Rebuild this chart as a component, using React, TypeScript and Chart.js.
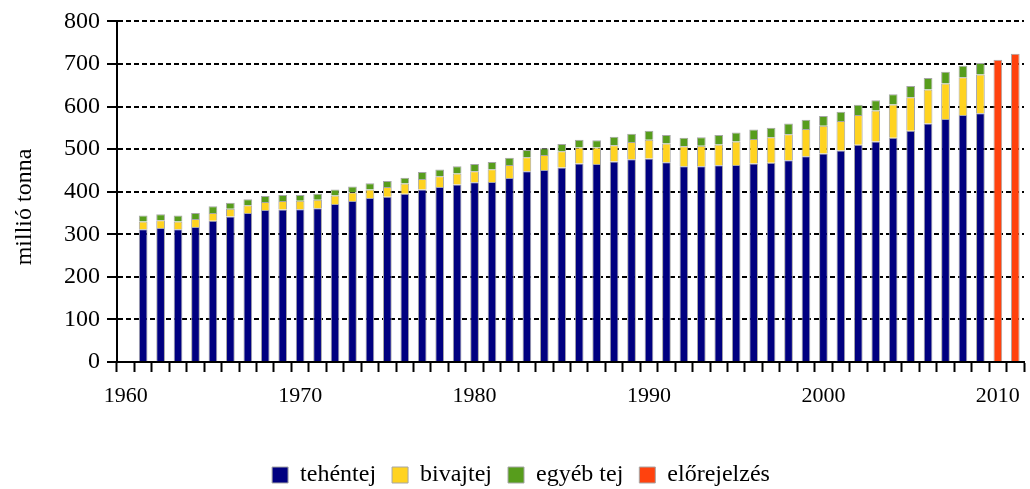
import React, { useEffect, useRef } from "react";
import { Chart, registerables } from "chart.js";

Chart.register(...registerables);

const years: number[] = [];
for (let y = 1960; y <= 2011; y++) years.push(y);

// values in million tonnes, 1961..2009
const cowMilk = [
  312, 315, 312, 317, 332, 342, 350, 357, 358, 359,
  361, 371, 378, 385, 388, 395, 405, 411, 417, 422,
  423, 432, 448, 451, 457, 466, 465, 471, 476, 478,
  469, 460, 460, 462, 463, 466, 468, 474, 483, 490,
  497, 510, 518, 527, 543, 560, 571, 580, 584,
];
const buffaloMilk = [
  18, 18, 18, 19, 18, 18, 18, 19, 20, 20,
  20, 20, 20, 20, 23, 24, 25, 25, 26, 26,
  30, 31, 33, 35, 38, 38, 39, 38, 41, 44,
  44, 47, 48, 49, 55, 58, 60, 61, 64, 65,
  69, 70, 73, 78, 79, 80, 83, 89, 91,
];
const otherMilk = [
  14, 14, 14, 14, 16, 14, 14, 14, 14, 13,
  14, 14, 14, 15, 14, 14, 16, 16, 17, 17,
  17, 17, 17, 16, 17, 18, 17, 20, 19, 21,
  20, 20, 20, 22, 21, 22, 22, 25, 22, 23,
  22, 24, 24, 24, 26, 27, 28, 27, 27,
];
const forecastYears = [2010, 2011];
const forecastValues = [710, 724];

const seriesLabels = ["tehéntej", "bivajtej", "egyéb tej", "előrejelzés"];
const yTicks = [0, 100, 200, 300, 400, 500, 600, 700, 800];
const axisTitle = "millió tonna";

const W = 1030;
const H = 489;
const PLOT_BOTTOM = 362;
const BOTTOM_PAD = -8;
const LEFT_PAD = 18;
const FONT = "'Liberation Serif', 'Times New Roman', serif";

function byYear(start: number, vals: number[]): (number | null)[] {
  return years.map((y) => {
    const i = y - start;
    return i >= 0 && i < vals.length ? vals[i] : null;
  });
}

export default function App() {
  const ref = useRef<HTMLCanvasElement | null>(null);

  useEffect(() => {
    if (!ref.current) return;
    const forecast = years.map((y) => {
      const i = forecastYears.indexOf(y);
      return i >= 0 ? forecastValues[i] : null;
    });
    const common = {
      borderWidth: 1,
      borderColor: "#a6a6a6",
      barPercentage: 0.5,
      categoryPercentage: 1,
      stack: "s",
    };
    const titlePlugin = {
      id: "yTitle",
      afterDraw(chart: any) {
        const ctx = chart.ctx;
        ctx.save();
        ctx.translate(25, 207);
        ctx.rotate(-Math.PI / 2);
        ctx.font = `24px ${FONT}`;
        ctx.fillStyle = "#000";
        ctx.textAlign = "center";
        ctx.textBaseline = "middle";
        ctx.fillText(axisTitle, 0, 0);
        ctx.restore();
      },
    };
    const chart = new Chart(ref.current, {
      type: "bar",
      data: {
        labels: years.map(String),
        datasets: [
          { label: seriesLabels[0], data: byYear(1961, cowMilk), backgroundColor: "#000080", ...common },
          { label: seriesLabels[1], data: byYear(1961, buffaloMilk), backgroundColor: "#FFD320", ...common },
          { label: seriesLabels[2], data: byYear(1961, otherMilk), backgroundColor: "#579D1C", ...common },
          { label: seriesLabels[3], data: forecast, backgroundColor: "#FF420E", ...common },
        ],
      },
      options: {
        animation: false,
        responsive: false,
        devicePixelRatio: 1,
        layout: { padding: { top: 18, right: 6, bottom: BOTTOM_PAD, left: LEFT_PAD } },
        plugins: {
          tooltip: { enabled: false },
          legend: {
            position: "bottom",
            labels: {
              boxWidth: 16,
              boxHeight: 16,
              padding: 16,
              color: "#000",
              font: { family: FONT, size: 24 },
            },
          },
        },
        scales: {
          x: {
            stacked: true,
            offset: true,
            grid: {
              display: true,
              offset: true,
              drawOnChartArea: false,
              drawTicks: true,
              tickLength: 10,
              tickColor: "#000",
              tickWidth: 2,
            },
            border: { display: true, color: "#000", width: 2 },
            ticks: {
              autoSkip: false,
              maxRotation: 0,
              minRotation: 0,
              padding: 11,
              color: "#000",
              font: { family: FONT, size: 22 },
              callback: (_v: any, i: number) => (years[i] % 10 === 0 ? String(years[i]) : ""),
            },
            afterFit: (scale: any) => {
              const lg = scale.chart.legend;
              const lh = lg && lg.height ? lg.height : 60;
              scale.height = Math.max(20, H - PLOT_BOTTOM - lh - BOTTOM_PAD);
            },
          },
          y: {
            stacked: true,
            min: 0,
            max: 800,
            afterBuildTicks: (scale: any) => {
              scale.ticks = yTicks.map((v) => ({ value: v }));
            },
            afterFit: (scale: any) => {
              scale.width = 117 - LEFT_PAD;
            },
            grid: {
              color: (c: any) => (c.tick && c.tick.value === 0 ? "rgba(0,0,0,0)" : "#000"),
              lineWidth: 2,
              tickLength: 10,
              tickColor: "#000",
              tickWidth: 2,
            },
            border: { display: true, color: "#000", width: 2, dash: [5, 3] },
            ticks: {
              padding: 7,
              color: "#000",
              font: { family: FONT, size: 24 },
            },
          },
        },
      },
      plugins: [titlePlugin],
    } as any);
    return () => chart.destroy();
  }, []);

  return (
    <div style={{ position: "absolute", left: 0, top: 0, width: W, height: H, background: "#fff" }}>
      <canvas ref={ref} width={W} height={H} style={{ width: W, height: H, display: "block" }} />
    </div>
  );
}
